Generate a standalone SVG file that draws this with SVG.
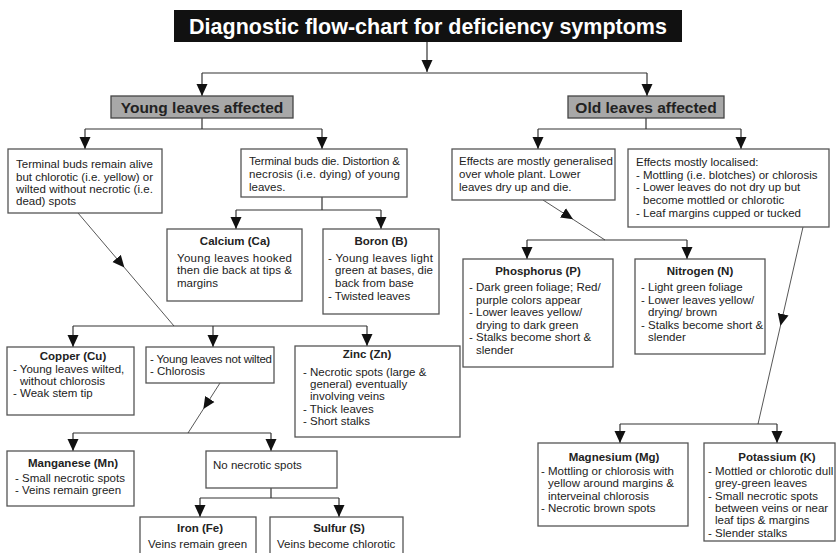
<svg xmlns="http://www.w3.org/2000/svg" width="836" height="553" viewBox="0 0 836 553">
<style>
  text { font-family: "Liberation Sans", Arial, sans-serif; font-size: 11.5px; fill: #222; }
  .title { font-size: 21.5px; font-weight: bold; fill: #fff; text-anchor: middle; }
  .hdr { font-size: 15.5px; font-weight: bold; fill: #222; text-anchor: middle; }
  .nt { font-weight: bold; text-anchor: middle; }
  .box { fill: #fff; stroke: #555; stroke-width: 1.3; }
  .hbox { fill: #a8a8a8; stroke: #444; stroke-width: 1.3; }
  .conn { fill: none; stroke: #333; stroke-width: 1.2; }
  .diag { fill: none; stroke: #444; stroke-width: 0.9; }
</style>
<defs>
  <marker id="arr" viewBox="0 0 12 12" refX="12" refY="6" markerWidth="12" markerHeight="12" markerUnits="userSpaceOnUse" orient="auto">
    <path d="M0,0.5 L12,6 L0,11.5 Z" fill="#111"/>
  </marker>
  <marker id="mid" viewBox="0 0 12 12" refX="6" refY="6" markerWidth="12" markerHeight="12" markerUnits="userSpaceOnUse" orient="auto">
    <path d="M0,0.5 L12,6 L0,11.5 Z" fill="#111"/>
  </marker>
</defs>
<rect width="836" height="553" fill="#fff"/>

<g id="connectors">
  <path class="conn" d="M427,42 V72" marker-end="url(#arr)"/>
  <path class="conn" d="M202,73 H647"/>
  <path class="conn" d="M202,73 V96" marker-end="url(#arr)"/>
  <path class="conn" d="M647,73 V96" marker-end="url(#arr)"/>

  <path class="conn" d="M202,118 V129 M85,129 H322"/>
  <path class="conn" d="M85,129 V149" marker-end="url(#arr)"/>
  <path class="conn" d="M322,129 V149" marker-end="url(#arr)"/>

  <path class="conn" d="M646,118 V129 M538,129 H741"/>
  <path class="conn" d="M538,129 V149" marker-end="url(#arr)"/>
  <path class="conn" d="M741,129 V149" marker-end="url(#arr)"/>

  <path class="conn" d="M322,197 V210 M236,210 H381"/>
  <path class="conn" d="M236,210 V229" marker-end="url(#arr)"/>
  <path class="conn" d="M381,210 V229" marker-end="url(#arr)"/>

  <path class="diag" d="M78,213 L120.5,263 L174,326" marker-mid="url(#mid)"/>
  <path class="conn" d="M73,326 H367"/>
  <path class="conn" d="M73,326 V347" marker-end="url(#arr)"/>
  <path class="conn" d="M213,326 V347" marker-end="url(#arr)"/>
  <path class="conn" d="M367,326 V346" marker-end="url(#arr)"/>

  <path class="diag" d="M220,383 L206.6,404 L188,433" marker-mid="url(#mid)"/>
  <path class="conn" d="M73,433 H271"/>
  <path class="conn" d="M73,433 V451" marker-end="url(#arr)"/>
  <path class="conn" d="M271,433 V451" marker-end="url(#arr)"/>

  <path class="conn" d="M271,488 V498 M200,498 H339"/>
  <path class="conn" d="M200,498 V517" marker-end="url(#arr)"/>
  <path class="conn" d="M339,498 V517" marker-end="url(#arr)"/>

  <path class="diag" d="M543,200 L568,216.1 L605,240" marker-mid="url(#mid)"/>
  <path class="conn" d="M527,240 H687"/>
  <path class="conn" d="M527,240 V259" marker-end="url(#arr)"/>
  <path class="conn" d="M687,240 V259" marker-end="url(#arr)"/>

  <path class="diag" d="M803,227 L781.8,320 L758,424" marker-mid="url(#mid)"/>
  <path class="conn" d="M620,424 H777"/>
  <path class="conn" d="M620,424 V443" marker-end="url(#arr)"/>
  <path class="conn" d="M777,424 V443" marker-end="url(#arr)"/>
</g>

<g id="title">
  <rect x="174" y="10" width="508" height="32" fill="#111"/>
  <text class="title" x="428" y="33.5">Diagnostic flow-chart for deficiency symptoms</text>
</g>

<g id="young">
  <rect class="hbox" x="111" y="96" width="182" height="22"/>
  <text class="hdr" x="202" y="112.5">Young leaves affected</text>
</g>

<g id="old">
  <rect class="hbox" x="568" y="96" width="156" height="22"/>
  <text class="hdr" x="646" y="112.5">Old leaves affected</text>
</g>

<g id="buds-alive">
  <rect class="box" x="8" y="149" width="154" height="64"/>
  <text x="16" y="168" textLength="137" lengthAdjust="spacing">Terminal buds remain alive</text>
  <text x="16" y="181" textLength="137" lengthAdjust="spacing">but chlorotic (i.e. yellow) or</text>
  <text x="16" y="193" textLength="137" lengthAdjust="spacing">wilted without necrotic (i.e.</text>
  <text x="16" y="205">dead) spots</text>
</g>

<g id="buds-die">
  <rect class="box" x="241" y="149" width="166" height="48"/>
  <text x="249" y="165" textLength="151" lengthAdjust="spacing">Terminal buds die. Distortion &amp;</text>
  <text x="249" y="178" textLength="151" lengthAdjust="spacing">necrosis (i.e. dying) of young</text>
  <text x="249" y="191">leaves.</text>
</g>

<g id="calcium">
  <rect class="box" x="167" y="229" width="135" height="72"/>
  <text class="nt" x="235" y="245">Calcium (Ca)</text>
  <text x="177" y="262" textLength="115" lengthAdjust="spacing">Young leaves hooked</text>
  <text x="177" y="274" textLength="115" lengthAdjust="spacing">then die back at tips &amp;</text>
  <text x="177" y="287">margins</text>
</g>

<g id="boron">
  <rect class="box" x="323" y="229" width="116" height="85"/>
  <text class="nt" x="381" y="245">Boron (B)</text>
  <text x="328" y="262" textLength="105" lengthAdjust="spacing">- Young leaves light</text>
  <text x="335" y="274" textLength="98" lengthAdjust="spacing">green at bases, die</text>
  <text x="335" y="287">back from base</text>
  <text x="328" y="300">- Twisted leaves</text>
</g>

<g id="copper">
  <rect class="box" x="7" y="347" width="127" height="68"/>
  <text class="nt" x="73" y="360">Copper (Cu)</text>
  <text x="13" y="373">- Young leaves wilted,</text>
  <text x="20" y="385">without chlorosis</text>
  <text x="13" y="397">- Weak stem tip</text>
</g>

<g id="not-wilted">
  <rect class="box" x="146" y="347" width="128" height="36"/>
  <text x="150" y="363" textLength="122" lengthAdjust="spacing">- Young leaves not wilted</text>
  <text x="150" y="375">- Chlorosis</text>
</g>

<g id="zinc">
  <rect class="box" x="295" y="346" width="165" height="91"/>
  <text class="nt" x="367" y="358">Zinc (Zn)</text>
  <text x="303" y="376">- Necrotic spots (large &amp;</text>
  <text x="310" y="388">general) eventually</text>
  <text x="310" y="400">involving veins</text>
  <text x="303" y="413">- Thick leaves</text>
  <text x="303" y="425">- Short stalks</text>
</g>

<g id="manganese">
  <rect class="box" x="7" y="451" width="127" height="55"/>
  <text class="nt" x="73" y="467">Manganese (Mn)</text>
  <text x="15" y="482">- Small necrotic spots</text>
  <text x="15" y="494">- Veins remain green</text>
</g>

<g id="no-necrotic">
  <rect class="box" x="206" y="451" width="131" height="37"/>
  <text x="213" y="469">No necrotic spots</text>
</g>

<g id="iron">
  <rect class="box" x="140" y="517" width="116" height="45"/>
  <text class="nt" x="200" y="532">Iron (Fe)</text>
  <text x="148" y="548">Veins remain green</text>
</g>

<g id="sulfur">
  <rect class="box" x="270" y="517" width="133" height="45"/>
  <text class="nt" x="339" y="532">Sulfur (S)</text>
  <text x="277" y="548">Veins become chlorotic</text>
</g>

<g id="generalised">
  <rect class="box" x="452" y="149" width="163" height="51"/>
  <text x="459" y="165">Effects are mostly generalised</text>
  <text x="459" y="178">over whole plant.  Lower</text>
  <text x="459" y="191">leaves dry up and die.</text>
</g>

<g id="localised">
  <rect class="box" x="628" y="149" width="201" height="78"/>
  <text x="636" y="166">Effects mostly localised:</text>
  <text x="636" y="179">- Mottling (i.e. blotches) or chlorosis</text>
  <text x="636" y="191">- Lower leaves do not dry up but</text>
  <text x="643" y="204">become mottled or chlorotic</text>
  <text x="636" y="217">- Leaf margins cupped or tucked</text>
</g>

<g id="phosphorus">
  <rect class="box" x="463" y="259" width="150" height="108"/>
  <text class="nt" x="538" y="275">Phosphorus (P)</text>
  <text x="469" y="291">- Dark green foliage; Red/</text>
  <text x="476" y="304">purple colors appear</text>
  <text x="469" y="316">- Lower leaves yellow/</text>
  <text x="476" y="329">drying to dark green</text>
  <text x="469" y="341">- Stalks become short &amp;</text>
  <text x="476" y="354">slender</text>
</g>

<g id="nitrogen">
  <rect class="box" x="635" y="259" width="130" height="95"/>
  <text class="nt" x="700" y="275">Nitrogen (N)</text>
  <text x="641" y="291">- Light green foliage</text>
  <text x="641" y="304">- Lower leaves yellow/</text>
  <text x="648" y="316">drying/ brown</text>
  <text x="641" y="329">- Stalks become short &amp;</text>
  <text x="648" y="341">slender</text>
</g>

<g id="magnesium">
  <rect class="box" x="538" y="443" width="150" height="83"/>
  <text class="nt" x="614" y="461">Magnesium (Mg)</text>
  <text x="541" y="475">- Mottling or chlorosis with</text>
  <text x="548" y="487">yellow around margins &amp;</text>
  <text x="548" y="500">interveinal chlorosis</text>
  <text x="541" y="512">- Necrotic brown spots</text>
</g>

<g id="potassium">
  <rect class="box" x="704" y="443" width="131" height="98"/>
  <text class="nt" x="777" y="461">Potassium (K)</text>
  <text x="708" y="475">- Mottled or chlorotic dull</text>
  <text x="715" y="487">grey-green leaves</text>
  <text x="708" y="500">- Small necrotic spots</text>
  <text x="715" y="512">between veins or near</text>
  <text x="715" y="524">leaf tips &amp; margins</text>
  <text x="708" y="537">- Slender stalks</text>
</g>
</svg>
